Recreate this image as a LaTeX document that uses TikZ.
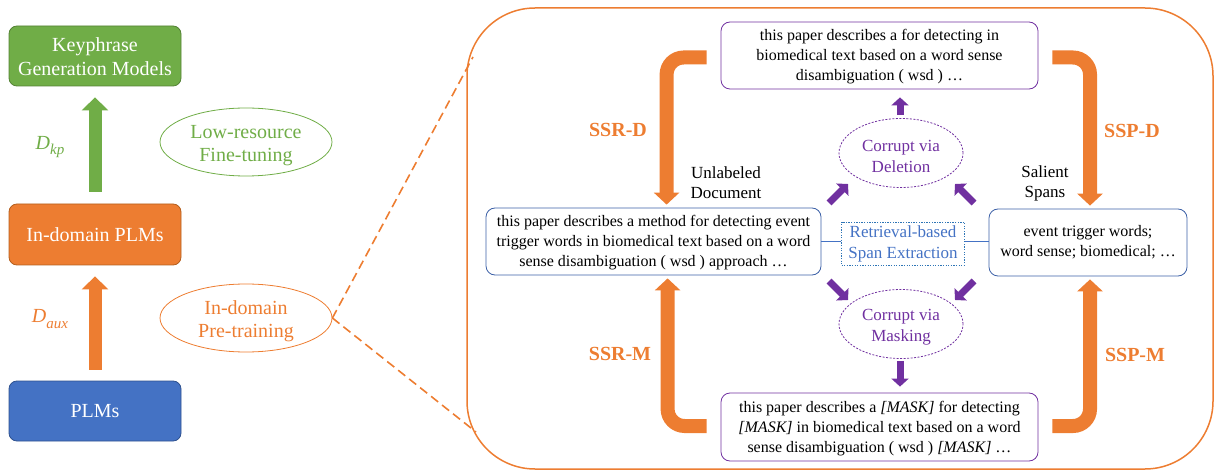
\documentclass[tikz,border=0pt]{standalone}
\usepackage{fontspec}
\setmainfont{Liberation Serif}
\usetikzlibrary{shapes.geometric,arrows.meta,calc}
\definecolor{kgreen}{HTML}{70AD47}
\definecolor{kgreenD}{HTML}{548235}
\definecolor{korange}{HTML}{ED7D31}
\definecolor{korangeD}{HTML}{B45F1E}
\definecolor{kblue}{HTML}{4472C4}
\definecolor{kblueD}{HTML}{2F528F}
\definecolor{kpurple}{HTML}{7030A0}
\definecolor{kdocblue}{HTML}{3B5FA6}
\definecolor{kretr}{HTML}{2E75B6}
\newcommand{\kdown}[1]{\rule{0pt}{#1}}
\tikzset{
  lbox/.style={draw, rounded corners=8pt, minimum width=172pt, minimum height=60pt, inner sep=0pt, align=center, text=white, font=\fontsize{20pt}{24pt}\selectfont, line width=0.8pt},
  lell/.style={ellipse, draw, minimum width=172pt, minimum height=68pt, inner sep=0pt, align=center, font=\fontsize{20pt}{23.5pt}\selectfont, line width=0.8pt},
  tbox/.style={draw, rounded corners=9pt, inner sep=0pt, align=center, font=\fontsize{16pt}{20.2pt}\selectfont, line width=0.8pt},
  elbow/.style={draw=korange, line width=14pt, rounded corners=17pt, -{Triangle[width=25pt,length=12pt]}},
  parrow/.style={draw=kpurple, line width=7pt, -{Triangle[width=17pt,length=8pt]}},
  bigup/.style={line width=13pt, -{Triangle[width=26pt,length=13pt]}},
  lbl/.style={font=\fontsize{17pt}{20pt}\selectfont, align=center, inner sep=0pt},
  ssrlbl/.style={text=korange, font=\fontsize{20pt}{24pt}\selectfont\bfseries, inner sep=0pt},
  pell/.style={ellipse, draw=kpurple, dash pattern=on 2pt off 1.5pt, line width=0.8pt, minimum width=124pt, minimum height=69pt, inner sep=0pt, align=center, text=kpurple, font=\fontsize{17pt}{21pt}\selectfont}
}
\begin{document}
\begin{tikzpicture}[x=1pt,y=-1pt]
\useasboundingbox (0,0) rectangle (1215,470);

% left column
\node[lbox, fill=kgreen, draw=kgreenD] (kg) at (95,56) {\kdown{16pt}Keyphrase\\Generation Models};
\node[lbox, fill=korange, draw=korangeD, minimum height=61pt] (mid) at (95,234.5) {In-domain PLMs};
\node[lbox, fill=kblue, draw=kblueD] (plm) at (95,411) {PLMs};

\draw[bigup, draw=kgreen] ($(mid.north)+(0pt,12pt)$) -- ($(kg.south)+(0pt,-11pt)$);
\draw[bigup, draw=korange] ($(plm.north)+(0pt,11pt)$) -- ($(mid.south)+(0pt,-11pt)$);

\node[text=kgreen, font=\fontsize{20pt}{24pt}\selectfont\itshape, inner sep=0pt] (dkp) at (50,147) {D\raisebox{-0.28em}{\fontsize{15pt}{15pt}\selectfont kp}};
\node[text=korange, font=\fontsize{20pt}{24pt}\selectfont\itshape, inner sep=0pt] (daux) at (50,319) {D\raisebox{-0.28em}{\fontsize{15pt}{15pt}\selectfont aux}};

\node[lell, draw=kgreen, text=kgreen] (lowres) at (246,142) {\kdown{20pt}Low-resource\\Fine-tuning};
\node[lell, draw=korange, text=korange] (indom) at (246,318) {\kdown{20pt}In-domain\\Pre-training};

% big frame
\draw[korange, line width=1.5pt, rounded corners=68pt] (467,8) rectangle (1213,469);
\coordinate (c1) at (473,57);
\coordinate (c2) at (476,432);
\draw[korange, line width=1.6pt, dash pattern=on 9pt off 5pt] (indom.east) -- (c1);
\draw[korange, line width=1.6pt, dash pattern=on 9pt off 5pt] (indom.east) -- (c2);

% inner boxes
\node[tbox, draw=kpurple, minimum width=317pt, minimum height=67pt] (topbox) at (879.5,55.5)
  {\kdown{14pt}this paper describes a for detecting in\\biomedical text based on a word sense\\disambiguation ( wsd ) …};
\node[tbox, draw=kdocblue, minimum width=335pt, minimum height=67pt] (docbox) at (653.5,241.5)
  {\kdown{14pt}this paper describes a method for detecting event\\trigger words in biomedical text based on a word\\sense disambiguation ( wsd ) approach …};
\node[tbox, draw=kdocblue, minimum width=198pt, minimum height=67pt] (spanbox) at (1088,242.5)
  {event trigger words;\\word sense; biomedical; …};
\node[tbox, draw=kpurple, minimum width=317pt, minimum height=68pt] (botbox) at (879.5,427)
  {\kdown{14pt}this paper describes a \textit{[MASK]} for detecting\\\textit{[MASK]} in biomedical text based on a word\\sense disambiguation ( wsd ) \textit{[MASK]} …};

\node[draw=kretr, dash pattern=on 1.3pt off 1.3pt, line width=0.8pt, minimum width=123pt, minimum height=43pt, inner sep=0pt, align=center, text=kblue, font=\fontsize{17pt}{21pt}\selectfont] (retr) at (903,243.5) {Retrieval-based\\Span Extraction};
\draw[kblue, line width=0.8pt] (docbox.east) -- (retr.west |- docbox.east);
\draw[kblue, line width=0.8pt] (retr.east |- docbox.east) -- (spanbox.west |- docbox.east);

\node[pell] (del) at (901,153) {\kdown{18pt}Corrupt via\\Deletion};
\node[pell] (mask) at (901,324) {\kdown{18pt}Corrupt via\\Masking};

% labels
\node[lbl] (unl) at (726,183) {Unlabeled\\Document};
\node[lbl] (sal) at (1045,183) {Salient\\Spans};
\node[ssrlbl] (ssrd) at (618,130) {SSR-D};
\node[ssrlbl] (ssrm) at (620,354) {SSR-M};
\node[ssrlbl] (sspd) at (1132,131) {SSP-D};
\node[ssrlbl] (sspm) at (1135,355) {SSP-M};

% orange elbow arrows
\draw[elbow] ($(topbox.west)+(-14pt,-2pt)$) -| ($(docbox.north west)+(181pt,3pt)$);
\draw[elbow] ($(topbox.east)+(14pt,-2pt)$) -| ($(spanbox.north)+(2pt,3pt)$);
\draw[elbow] ($(botbox.west)+(-14pt,1pt)$) -| ($(docbox.south west)+(182pt,-3pt)$);
\draw[elbow] ($(botbox.east)+(14pt,1pt)$) -| ($(spanbox.south)+(2pt,-3pt)$);

% purple arrows
\draw[parrow] ($(del.north)+(-1pt,3pt)$) -- ($(del.north |- topbox.south)+(-1pt,-8pt)$);
\draw[parrow] ($(mask.south)+(-1pt,-2pt)$) -- ($(mask.south |- botbox.north)+(-1pt,6pt)$);
\coordinate (d1s) at (829,203); \coordinate (d1e) at (848,184);
\coordinate (d2s) at (974,203); \coordinate (d2e) at (955,184);
\coordinate (d3s) at (829,281); \coordinate (d3e) at (848,300);
\coordinate (d4s) at (974,281); \coordinate (d4e) at (955,300);
\draw[parrow] (d1s) -- (d1e);
\draw[parrow] (d2s) -- (d2e);
\draw[parrow] (d3s) -- (d3e);
\draw[parrow] (d4s) -- (d4e);
\end{tikzpicture}
\end{document}
